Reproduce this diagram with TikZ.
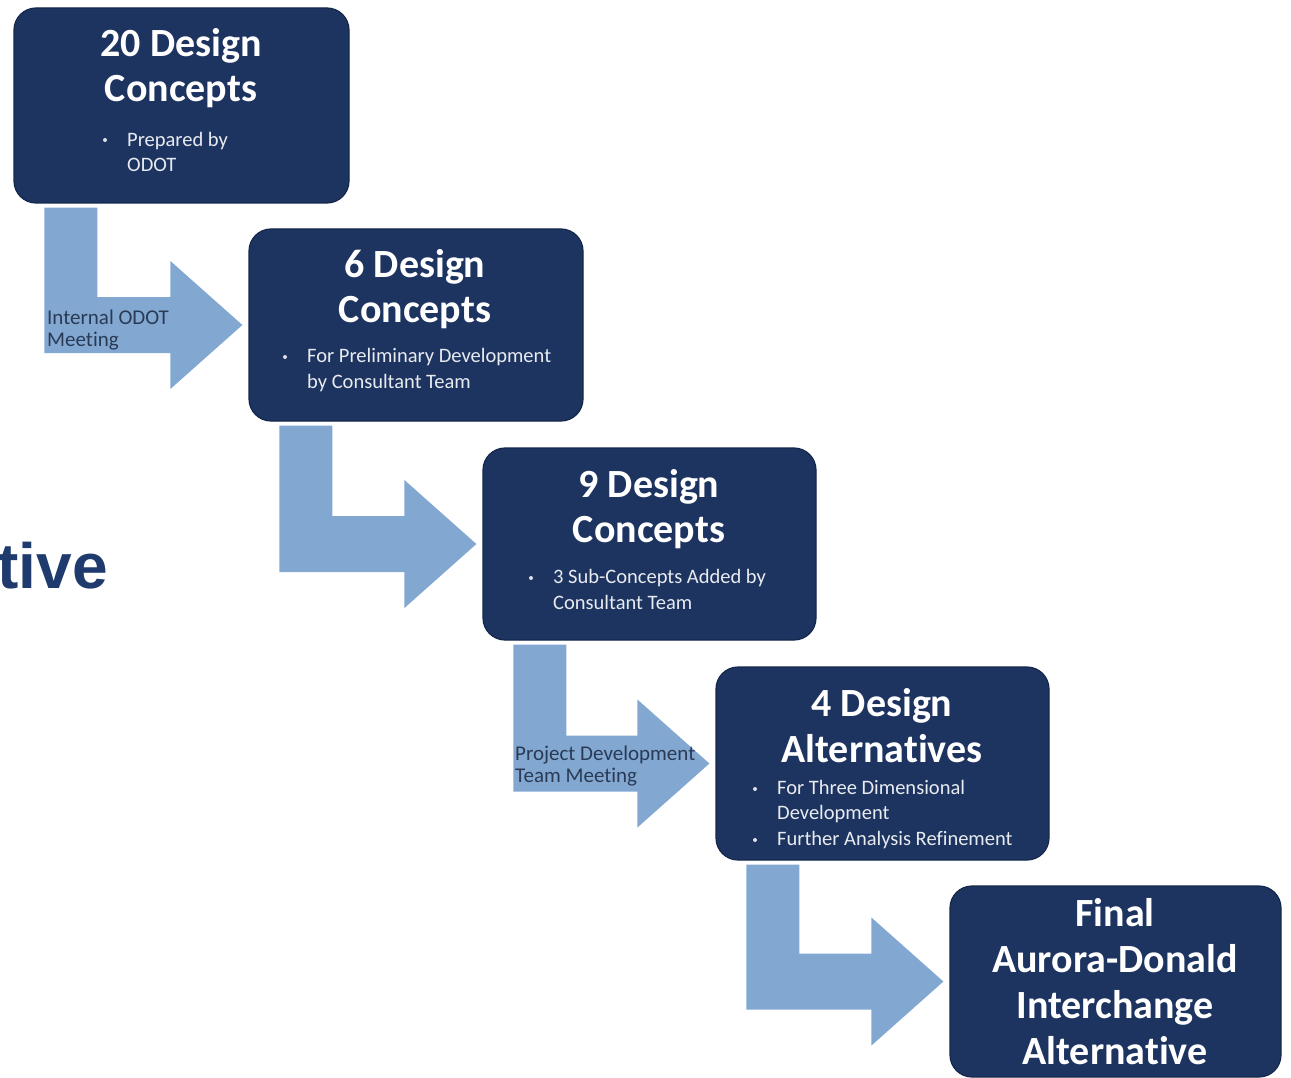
\documentclass[tikz,border=0pt]{standalone}
\usepackage{fontspec}
\setmainfont{Carlito}[Ligatures={NoCommon,NoRequired,NoContextual}]
\newfontfamily\headfont{Liberation Sans}
\usetikzlibrary{calc}
\definecolor{navy}{HTML}{1D3461}
\definecolor{navyedge}{HTML}{15284C}
\definecolor{arrowblue}{HTML}{82A8D2}
\definecolor{labelcol}{HTML}{2A3A55}
\definecolor{headline}{HTML}{1F3B6D}
\newcommand\flowarrow[2]{%
  \fill[arrowfill] let \p1=(#1.south west), \p2=(#2.west) in
    (\x1+31pt,\y1-4pt) -- (\x1+84pt,\y1-4pt) -- (\x1+84pt,\y2+28pt)
    -- (\x2-78pt,\y2+28pt) -- (\x2-78pt,\y2+64pt) -- (\x2-6pt,\y2)
    -- (\x2-78pt,\y2-64pt) -- (\x2-78pt,\y2-28pt) -- (\x1+31pt,\y2-28pt) -- cycle;}
\begin{document}
\begin{tikzpicture}[x=1pt,y=-1pt,
  box/.style={draw=navyedge, line width=1.2pt, fill=navy, rounded corners=22pt, inner sep=0pt},
  ttl/.style={text=white, font=\fontsize{40}{45}\selectfont\bfseries, anchor=base, inner sep=0pt},
  bul/.style={text=white!90!navy, font=\fontsize{20.5}{26}\selectfont, anchor=base west, inner sep=0pt},
  bdot/.style={circle, fill=white!85!navy, inner sep=0pt, minimum size=4pt},
  lab/.style={text=labelcol, font=\fontsize{21}{22}\selectfont, anchor=base west, inner sep=0pt},
  arrowfill/.style={fill=arrowblue}]
\useasboundingbox (0,0) rectangle (1291,1078);
\fill[white] (0,0) rectangle (1291,1078);

% boxes
\node[box, minimum width=335pt, minimum height=195pt] (b1) at (181.5,105.5) {};
\node[box, minimum width=334pt, minimum height=192pt] (b2) at (416,325) {};
\node[box, minimum width=333pt, minimum height=192pt] (b3) at (649.5,544) {};
\node[box, minimum width=333pt, minimum height=193pt] (b4) at (882.5,763.5) {};
\node[box, minimum width=331pt, minimum height=191pt] (b5) at (1115.5,981.5) {};

% arrows
\flowarrow{b1}{b2}
\flowarrow{b2}{b3}
\flowarrow{b3}{b4}
\flowarrow{b4}{b5}

% box 1
\node[ttl] (t1a) at (181,57) {20 Design};
\node[ttl] (t1b) at (181,102) {Concepts};
\node[bdot] (d1a) at (105,140) {};
\node[bul] (s1a) at (127,147) {Prepared by};
\node[bul] (s1b) at (127,172) {ODOT};

% box 2
\node[ttl] (t2a) at (415,277) {6 Design};
\node[ttl] (t2b) at (415,323) {Concepts};
\node[bdot] (d2a) at (285,357) {};
\node[bul] (s2a) at (307,362) {For Preliminary Development};
\node[bul] (s2b) at (307,388) {by Consultant Team};

% box 3
\node[ttl] (t3a) at (649,497) {9 Design};
\node[ttl] (t3b) at (649,542) {Concepts};
\node[bdot] (d3a) at (531,578) {};
\node[bul] (s3a) at (553,583) {3 Sub-Concepts Added by};
\node[bul] (s3b) at (553,609) {Consultant Team};

% box 4
\node[ttl] (t4a) at (882,716) {4 Design};
\node[ttl] (t4b) at (882,762) {Alternatives};
\node[bdot] (d4a) at (755,789) {};
\node[bul] (s4a) at (777,794) {For Three Dimensional};
\node[bul] (s4b) at (777,819) {Development};
\node[bdot] (d4b) at (755,840) {};
\node[bul] (s4c) at (777,845) {Further Analysis Refinement};

% box 5
\node[ttl] (t5a) at (1115,926) {Final};
\node[ttl] (t5b) at (1115,972) {Aurora-Donald};
\node[ttl] (t5c) at (1115,1018) {Interchange};
\node[ttl] (t5d) at (1115,1064) {Alternative};

% arrow labels
\node[lab] (l1a) at (47,324) {Internal ODOT};
\node[lab] (l1b) at (47,346) {Meeting};
\node[lab] (l3a) at (515,760) {Project Development};
\node[lab] (l3b) at (515,782) {Team Meeting};

% partial heading at left
\node[anchor=base east, inner sep=0pt, text=headline, font=\headfont\bfseries\fontsize{64}{70}\selectfont] (hd) at (108,588) {tive};
\end{tikzpicture}
\end{document}
